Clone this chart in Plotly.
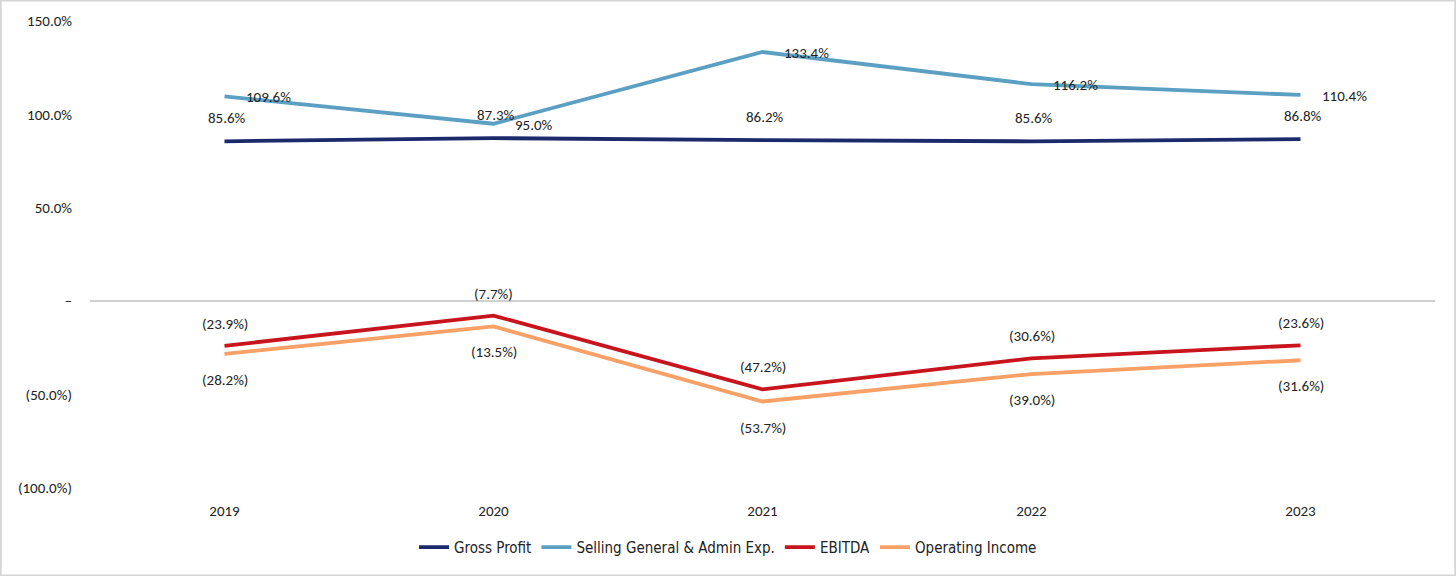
import plotly.graph_objects as go

years = ["2019", "2020", "2021", "2022", "2023"]
gross_profit = [85.6, 87.3, 86.2, 85.6, 86.8]
sga = [109.6, 95.0, 133.4, 116.2, 110.4]
ebitda = [-23.9, -7.7, -47.2, -30.6, -23.6]
op_income = [-28.2, -13.5, -53.7, -39.0, -31.6]

y_tickvals = [150, 100, 50, 0, -50, -100]
y_ticktext = ["150.0%", "100.0%", "50.0%", "–", "(50.0%)", "(100.0%)"]

colors = {
    "Gross Profit": "#1B2A6B",
    "Selling General & Admin Exp.": "#5B9FC2",
    "EBITDA": "#C8151D",
    "Operating Income": "#F9A066",
}

def fmt(v):
    return f"{v:.1f}%" if v >= 0 else f"({abs(v):.1f}%)"

FONT = "Carlito, Lato, 'DejaVu Sans'"
FS = 15

fig = go.Figure()
series = [
    ("Gross Profit", gross_profit),
    ("Selling General & Admin Exp.", sga),
    ("EBITDA", ebitda),
    ("Operating Income", op_income),
]
for name, vals in series:
    fig.add_trace(go.Scatter(
        x=years, y=vals, name=name, mode="lines",
        line=dict(color=colors[name], width=3.8),
    ))

lab_font = dict(family=FONT, size=FS, color="#222")
annotations = []
for i, v in enumerate(gross_profit):
    annotations.append(dict(x=i, y=v, xref="x", yref="y", text=fmt(v), showarrow=False,
                            yshift=23, xshift=2, font=lab_font))
for i, v in enumerate(sga):
    annotations.append(dict(x=i, y=v, xref="x", yref="y", text=fmt(v), showarrow=False,
                            xanchor="left", xshift=19, yshift=-1, font=lab_font))
for i, v in enumerate(ebitda):
    annotations.append(dict(x=i, y=v, xref="x", yref="y", text=fmt(v), showarrow=False,
                            yshift=22, font=lab_font))
for i, v in enumerate(op_income):
    annotations.append(dict(x=i, y=v, xref="x", yref="y", text=fmt(v), showarrow=False,
                            yshift=-26, font=lab_font))

W, H = 1456, 576
ml, mr, mt, mb = 90, 21, 21, 88
pw, ph = W - ml - mr, H - mt - mb

fig.update_layout(
    width=W, height=H,
    margin=dict(l=ml, r=mr, t=mt, b=mb),
    paper_bgcolor="white", plot_bgcolor="white",
    font=dict(family=FONT, size=FS, color="#222"),
    showlegend=True,
    legend=dict(orientation="h", x=(W / 2 - ml) / pw, xanchor="center", y=-0.127, yanchor="middle",
                font=dict(family="'DejaVu Sans Condensed', 'Liberation Sans Narrow', Lato",
                          size=15, color="#222"),
                itemwidth=30, traceorder="normal"),
    annotations=annotations,
    xaxis=dict(type="category", range=[-0.5, 4.5], showgrid=False, zeroline=False,
               showline=False, ticks="", ticklabelstandoff=12,
               tickfont=dict(size=FS, color="#222")),
    yaxis=dict(range=[-100, 150], tickvals=y_tickvals, ticktext=y_ticktext,
               showgrid=False, zeroline=True, zerolinecolor="#D0D0D0", zerolinewidth=2,
               showline=False, ticks="", ticklabelstandoff=17,
               tickfont=dict(size=FS, color="#222")),
    shapes=[dict(type="rect", xref="paper", yref="paper",
                 x0=-ml / pw + 0.0005, x1=1 + mr / pw - 0.0005,
                 y0=-mb / ph + 0.001, y1=1 + mt / ph - 0.001,
                 line=dict(color="#D4D4D4", width=2), fillcolor="rgba(0,0,0,0)", layer="below")],
)

fig.write_html(
    "out.html",
    config={"displayModeBar": False},
    post_script="document.body.style.margin='0';document.body.style.overflow='hidden';",
)
